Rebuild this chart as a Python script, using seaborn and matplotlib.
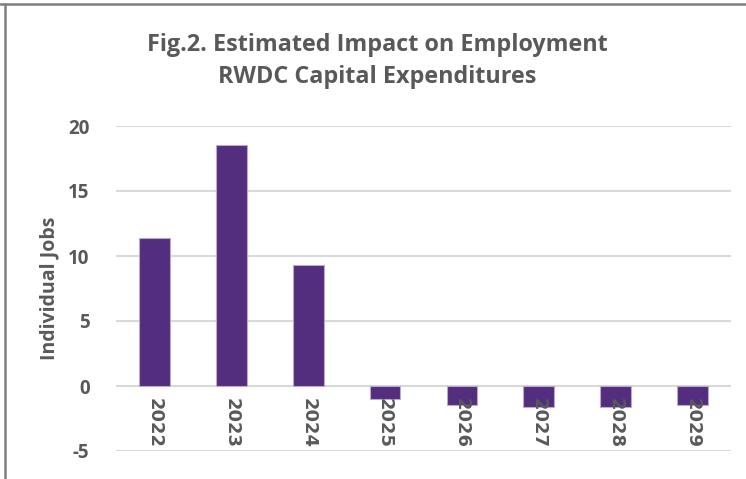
import matplotlib
matplotlib.use("Agg")
import matplotlib.pyplot as plt
from matplotlib.lines import Line2D
import seaborn as sns

years = ["2022", "2023", "2024", "2025", "2026", "2027", "2028", "2029"]
jobs = [11.4, 18.55, 9.3, -1.0, -1.45, -1.63, -1.58, -1.43]
y_ticks = [-5, 0, 5, 10, 15, 20]

BAR = "#532D7E"
TEXT = "#595959"
GRID = "#D9D9D9"

sns.set_theme(style="white")
plt.rcParams["font.family"] = ["Open Sans", "DejaVu Sans"]

fig = plt.figure(figsize=(7.46, 4.79), dpi=100)
ax = fig.add_axes([116 / 746, 1 - 451 / 479, (731 - 116) / 746, (451 - 126) / 479])

sns.barplot(x=years, y=jobs, color=BAR, width=0.4, saturation=1,
            edgecolor="#B9A9D0", linewidth=0.8, ax=ax, zorder=3)

ax.set_xlim(-0.5, len(years) - 0.5)
ax.set_ylim(-5, 20)
ax.set_yticks(y_ticks)
ax.set_yticklabels([str(t) for t in y_ticks], fontsize=13.5, fontweight="bold", color=TEXT)
ax.yaxis.grid(True, color=GRID, linewidth=1.5)
# gridlines stay behind the bars, category labels go on top of them
ax.set_axisbelow(False)
ax.yaxis.set_zorder(0.5)
ax.xaxis.set_zorder(5)
for s in ax.spines.values():
    s.set_visible(False)

# category labels sit just under the zero line
ax.spines["bottom"].set_position(("data", 0))
ax.tick_params(axis="x", length=0, pad=8.5)
ax.tick_params(axis="y", length=0, pad=19)
ax.set_xticks(range(len(years)))
ax.set_xticklabels(years, rotation=-90, fontsize=13, fontweight="bold",
                   color=TEXT, family="DejaVu Sans", va="top")

ax.set_xlabel("")
ax.set_ylabel("Individual Jobs", fontsize=14, fontweight="bold", color=TEXT, labelpad=6)

fig.text(377 / 746, 1 - 45 / 479, "Fig.2. Estimated Impact on Employment",
         ha="center", va="center", fontsize=16.8, fontweight="bold", color=TEXT)
fig.text(377 / 746, 1 - 77 / 479, "RWDC Capital Expenditures",
         ha="center", va="center", fontsize=16.8, fontweight="bold", color=TEXT)

# chart frame edges along the top and left
fig.add_artist(Line2D([0, 1], [1 - 4 / 479, 1 - 4 / 479], color="#7F7F7F", linewidth=1.8,
                      transform=fig.transFigure))
fig.add_artist(Line2D([5 / 746, 5 / 746], [0, 1 - 4 / 479], color="#7F7F7F", linewidth=1.8,
                      transform=fig.transFigure))

fig.savefig("out.png", dpi=100)
